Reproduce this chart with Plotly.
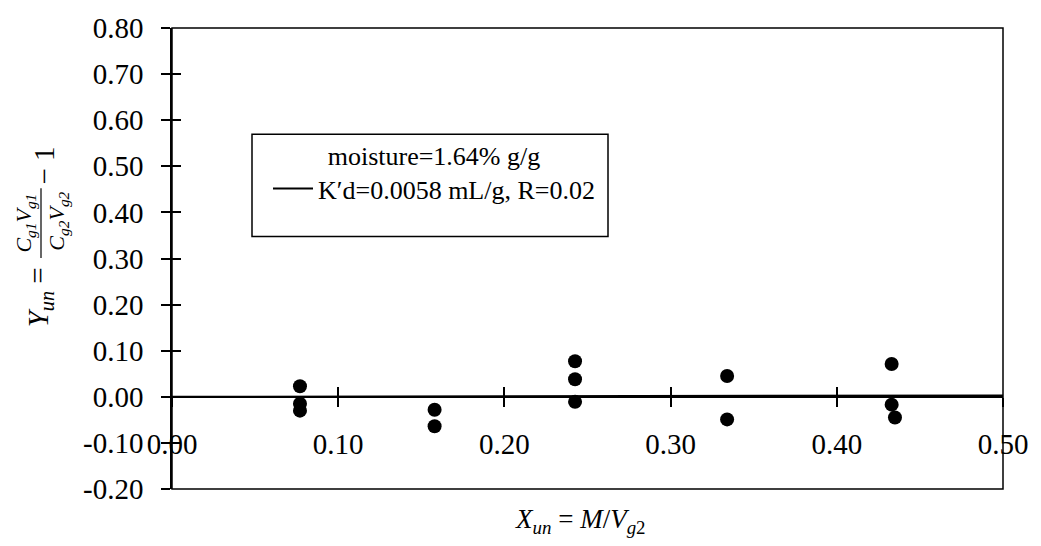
import plotly.graph_objects as go

# ---- data ----
x_obs = [0.077, 0.077, 0.077, 0.158, 0.158, 0.2425, 0.2425, 0.2425, 0.334, 0.334, 0.433, 0.433, 0.435]
y_obs = [0.023, -0.015, -0.030, -0.028, -0.064, 0.077, 0.038, -0.011, 0.045, -0.049, 0.071, -0.017, -0.045]

fit_x = [0.0, 0.50]
fit_y = [0.0, 0.003]

x_ticks = [0.0, 0.1, 0.2, 0.3, 0.4, 0.5]
x_tick_text = ["0.00", "0.10", "0.20", "0.30", "0.40", "0.50"]
y_ticks = [-0.2, -0.1, 0.0, 0.1, 0.2, 0.3, 0.4, 0.5, 0.6, 0.7, 0.8]
y_tick_text = ["-0.20", "-0.10", "0.00", "0.10", "0.20", "0.30", "0.40", "0.50", "0.60", "0.70", "0.80"]

legend_title = "moisture=1.64% g/g"
fit_name = "K\u2032d=0.0058 mL/g, R=0.02"

FONT = "Liberation Serif"

W, H = 1041, 546
L, R, T, B = 172, 38, 20, 57
PW, PH = W - L - R, H - T - B


def px(xp):
    return (xp - L) / PW


def py(yp):
    return (H - B - yp) / PH


fig = go.Figure()
fig.add_trace(go.Scatter(
    x=fit_x, y=fit_y, mode="lines", name=fit_name,
    line=dict(color="black", width=2), showlegend=True,
))
fig.add_trace(go.Scatter(
    x=x_obs, y=y_obs, mode="markers", name="data",
    marker=dict(color="black", size=14, line=dict(width=0)), showlegend=False,
))

axis_common = dict(
    showgrid=False, zeroline=False, showline=True, linecolor="black", linewidth=1.5,
    tickcolor="black", tickwidth=1.5, ticklen=9,
)

fig.update_layout(
    width=W, height=H,
    margin=dict(l=L, r=R, t=T, b=B, pad=0),
    paper_bgcolor="white", plot_bgcolor="white",
    font=dict(family=FONT, color="black", size=24),
    xaxis=dict(
        range=[0, 0.5], tickvals=x_ticks, ticktext=x_tick_text,
        anchor="free", position=0.2, ticks="outside",
        tickfont=dict(size=29), ticklabelstandoff=13,
        **axis_common,
    ),
    xaxis2=dict(
        range=[0, 0.5], tickvals=x_ticks, overlaying="x", matches="x",
        anchor="free", position=0.2, ticks="inside", showticklabels=False,
        **axis_common,
    ),
    yaxis=dict(
        range=[-0.2, 0.8], tickvals=y_ticks, ticktext=y_tick_text,
        anchor="x", ticks="outside", tickfont=dict(size=29), ticklabelstandoff=12,
        **axis_common,
    ),
    yaxis2=dict(
        range=[-0.2, 0.8], tickvals=y_ticks, overlaying="y", matches="y",
        anchor="x", side="left", ticks="inside", showticklabels=False,
        **axis_common,
    ),
    legend=dict(
        x=px(268), y=py(125), xanchor="left", yanchor="top",
        borderwidth=0, bgcolor="rgba(0,0,0,0)",
        font=dict(family=FONT, size=26),
        title=dict(text=legend_title, side="top center", font=dict(family=FONT, size=26)),
        itemwidth=40,
    ),
    showlegend=True,
)

# dummy trace to activate secondary axes (no visible marks)
fig.add_trace(go.Scatter(x=[None], y=[None], xaxis="x2", yaxis="y2", showlegend=False, hoverinfo="skip"))

# plot frame
fig.add_shape(type="rect", xref="paper", yref="paper", x0=0, x1=1, y0=0, y1=1,
              line=dict(color="black", width=1.5), layer="above")
# legend frame
fig.add_shape(type="rect", xref="paper", yref="paper", x0=px(252), x1=px(608), y0=py(232), y1=py(128),
              line=dict(color="black", width=1.5), fillcolor="white", layer="above")

# y-axis title, built from pieces (rotated)
ann = []
ann.append(dict(text="<i>Y<sub>un</sub></i> =", x=px(40), y=py(294), textangle=-90,
                font=dict(size=29)))
ann.append(dict(text="<i>C<sub>g1</sub>V<sub>g1</sub></i>", x=px(25), y=py(219), textangle=-90,
                font=dict(size=22)))
ann.append(dict(text="<i>C<sub>g2</sub>V<sub>g2</sub></i>", x=px(58), y=py(217), textangle=-90,
                font=dict(size=22)))
ann.append(dict(text="\u2212 1", x=px(44), y=py(160), textangle=-90, font=dict(size=29)))
# x-axis title
ann.append(dict(text="<i>X<sub>un</sub></i> = <i>M</i>/<i>V</i><sub><i>g</i>2</sub>",
                x=px(580), y=py(522), font=dict(size=27)))
for a in ann:
    a.update(xref="paper", yref="paper", showarrow=False, xanchor="center", yanchor="middle")
    a["font"] = dict(family=FONT, color="black", size=a["font"]["size"])
fig.update_layout(annotations=ann)

fig.add_shape(type="line", xref="paper", yref="paper", x0=px(41), x1=px(41), y0=py(254), y1=py(183),
              line=dict(color="black", width=1.2))

fig.write_html("out.html")
